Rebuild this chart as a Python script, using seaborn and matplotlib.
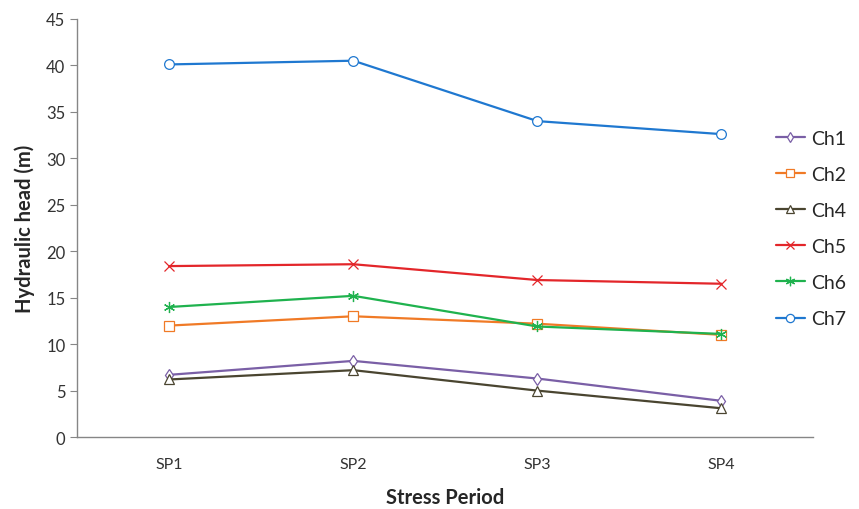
import matplotlib
matplotlib.use('Agg')
import matplotlib.pyplot as plt
import seaborn as sns
import pandas as pd

# Stress periods and hydraulic heads
periods = ['SP1', 'SP2', 'SP3', 'SP4']
ch1 = [6.7, 8.2, 6.3, 3.9]
ch2 = [12.0, 13.0, 12.2, 11.0]
ch4 = [6.2, 7.2, 5.0, 3.1]
ch5 = [18.4, 18.6, 16.9, 16.5]
ch6 = [14.0, 15.2, 11.9, 11.1]
ch7 = [40.1, 40.5, 34.0, 32.6]

names = ['Ch1', 'Ch2', 'Ch4', 'Ch5', 'Ch6', 'Ch7']
series = [ch1, ch2, ch4, ch5, ch6, ch7]
colors = ['#7a5fa6', '#f07a26', '#4a4530', '#e3262a', '#1fb24e', '#1f78d0']
markers = ['d', 's', '^', 'x', (6, 2, 0), 'o']
msizes = [6, 7, 7, 7, 8, 7]

rows = []
for n, vals in zip(names, series):
    for p, v in zip(periods, vals):
        rows.append({'period': p, 'head': v, 'channel': n})
df = pd.DataFrame(rows)

sns.set_style('white')
plt.rcParams['font.family'] = ['Lato', 'DejaVu Sans']

fig = plt.figure(figsize=(8.59, 5.10), dpi=100)
ax = fig.add_axes([0.09, 0.141, 0.857, 0.82])

for n, c, m, s in zip(names, colors, markers, msizes):
    sub = df[df.channel == n]
    sns.lineplot(data=sub, x='period', y='head', ax=ax, color=c, marker=m,
                 markersize=s, markerfacecolor='white', markeredgecolor=c,
                 markeredgewidth=0.9, linewidth=1.6, label=n)

ax.set_xlim(-0.5, 3.5)
ax.set_ylim(0, 45)
ax.set_yticks(range(0, 46, 5))
ax.set_xticks(range(4))
ax.set_xticklabels(periods)
ax.set_xticks([-0.5, 0.5, 1.5, 2.5, 3.5], minor=True)
ax.tick_params(axis='x', which='major', length=0, pad=14, labelsize=11.5, colors='#333333')
ax.tick_params(axis='x', which='minor', length=5, color='#868686', direction='out')
ax.tick_params(axis='y', length=5, color='#868686', direction='out', labelsize=12,
               labelcolor='#333333', left=True)
for sp in ['top', 'right']:
    ax.spines[sp].set_visible(False)
for sp in ['left', 'bottom']:
    ax.spines[sp].set_color('#868686')
    ax.spines[sp].set_linewidth(1)

ax.set_xlabel('Stress Period', fontsize=14.5, fontweight='bold', labelpad=12)
ax.set_ylabel('Hydraulic head (m)', fontsize=14.5, fontweight='bold', labelpad=8)

ax.legend(loc='upper left', bbox_to_anchor=(0.903, 0.743), bbox_transform=fig.transFigure,
          frameon=False, fontsize=14, labelspacing=0.98, handlelength=1.5,
          handletextpad=0.3, borderaxespad=0, borderpad=0, markerscale=0.85)

fig.savefig('out.png', dpi=100)
